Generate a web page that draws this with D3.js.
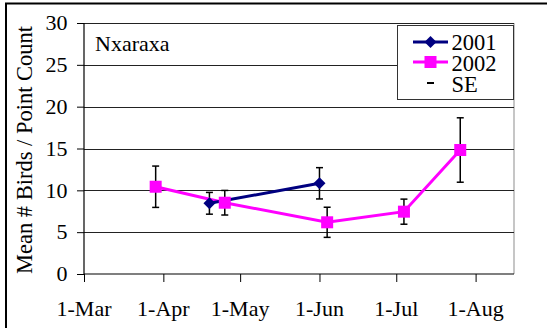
<!DOCTYPE html>
<html>
<head>
<meta charset="utf-8">
<script src="https://cdn.jsdelivr.net/npm/d3@7"></script>
<style>
html,body{margin:0;padding:0;background:#fff;}
#wrap{position:relative;width:547px;height:328px;overflow:hidden;}
#wrap svg{position:absolute;left:0;top:0;display:block;}
.lbl{position:absolute;white-space:nowrap;font-family:"Liberation Serif","Times New Roman",serif !important;color:#000;}
</style>
</head>
<body>
<div id="wrap"><svg id="chart" width="547" height="328"></svg></div>
<script>
// ---- data ----
const xTickLabels = ["1-Mar","1-Apr","1-May","1-Jun","1-Jul","1-Aug"];
const xTickDates = ["2002-03-01","2002-04-01","2002-05-01","2002-06-01","2002-07-01","2002-08-01"];
const yTicks = [0,5,10,15,20,25,30];

const dates2001 = ["2002-04-19","2002-06-01"];
const mean2001 = [8.45, 10.84];
const se2001 = [1.3, 1.87];

const dates2002 = ["2002-03-29","2002-04-25","2002-06-04","2002-07-04","2002-07-26"];
const mean2002 = [10.43, 8.52, 6.18, 7.45, 14.82];
const se2002 = [2.47, 1.47, 1.8, 1.5, 3.85];

const seriesNames = ["2001","2002","SE"];
const siteLabel = "Nxaraxa";
const yTitle = "Mean # Birds / Point Count";

// ---- layout ----
const wrap = d3.select("#wrap");
const svg = d3.select("#chart");
const pL = 84, pR = 514, pT = 23, pB = 274;
const parse = d3.timeParse("%Y-%m-%d");
const FONT = '"Liberation Serif", "Times New Roman", serif';

const x = d3.scaleTime()
  .domain([parse("2002-03-01"), parse("2002-08-16")])
  .range([pL, pR]);
const y = d3.scaleLinear().domain([0,30]).range([pB, pT]);

// HTML text helper (baseline-positioned)
function label(txt, px, baseline, size, anchor){
  const lh = size*0.85;
  const off = (lh - 1.107*size)/2 + 0.891*size;
  return wrap.append("div").attr("class","lbl")
    .style("left",px+"px").style("top",(baseline-off)+"px")
    .style("font-size",size+"px").style("line-height",lh+"px")
    .style("font-family",FONT,"important")
    .style("transform",`translateX(${-anchor*100}%)`)
    .text(txt);
}

// outer border (cropped chart frame)
svg.append("rect").attr("x",6).attr("y",3.5).attr("width",600).attr("height",400)
  .attr("fill","#fff").attr("stroke","#000").attr("stroke-width",2);

// plot right border
svg.append("line").attr("x1",pR).attr("x2",pR).attr("y1",pT).attr("y2",pB)
  .attr("stroke","#a0a0a0").attr("stroke-width",1.2);

// gridlines
svg.append("g").selectAll("line").data(yTicks.filter(d=>d>0)).join("line")
  .attr("x1",pL).attr("x2",pR)
  .attr("y1",d=>Math.round(y(d))+0.5).attr("y2",d=>Math.round(y(d))+0.5)
  .attr("stroke","#222").attr("stroke-width",1);

// y axis
const yAxis = d3.axisLeft(y).tickValues(yTicks).tickSize(7);
const gy = svg.append("g").attr("transform",`translate(${pL},0)`).call(yAxis);
gy.select(".domain").attr("stroke","#000").attr("stroke-width",1.2).attr("d",`M0,${pT}V${pB}`);
gy.selectAll(".tick line").attr("stroke","#000").attr("stroke-width",1);
gy.selectAll(".tick text").remove();
yTicks.forEach(v=>label(d3.format("d")(v), 67.5, y(v)+8, 22, 1));

// x axis
const xDates = xTickDates.map(parse);
const xAxis = d3.axisBottom(x).tickValues(xDates).tickSize(8);
const gx = svg.append("g").attr("transform",`translate(0,${pB})`).call(xAxis);
gx.select(".domain").attr("stroke","#000").attr("stroke-width",1.2).attr("d",`M${pL},0H${pR}`);
gx.selectAll(".tick line").attr("stroke","#000").attr("stroke-width",1);
gx.selectAll(".tick text").remove();
xDates.forEach((d,i)=>label(xTickLabels[i], x(d), 317, 22, 0.5));

// y title (rotated)
{
  const s = 22.5, lh = s*0.85, off = (lh - 1.107*s)/2 + 0.891*s;
  const cx = 33 - (off - lh/2), cy = 150;
  wrap.append("div").attr("class","lbl")
    .style("left",cx+"px").style("top",cy+"px")
    .style("font-size",s+"px").style("line-height",lh+"px")
    .style("font-family",FONT,"important")
    .style("transform","translate(-50%,-50%) rotate(-90deg)")
    .text(yTitle);
}

// site label
label(siteLabel, 95, 52, 22, 0);

// series
const s2001 = dates2001.map((d,i)=>({date:parse(d), v:mean2001[i], se:se2001[i]}));
const s2002 = dates2002.map((d,i)=>({date:parse(d), v:mean2002[i], se:se2002[i]}));
const line = d3.line().x(d=>x(d.date)).y(d=>y(d.v));

function errorBars(data){
  const g = svg.append("g").attr("stroke","#000").attr("stroke-width",1.5);
  data.forEach(d=>{
    const cx = x(d.date);
    g.append("line").attr("x1",cx).attr("x2",cx).attr("y1",y(d.v+d.se)).attr("y2",y(d.v-d.se));
    g.append("line").attr("x1",cx-3.5).attr("x2",cx+3.5).attr("y1",y(d.v+d.se)).attr("y2",y(d.v+d.se));
    g.append("line").attr("x1",cx-3.5).attr("x2",cx+3.5).attr("y1",y(d.v-d.se)).attr("y2",y(d.v-d.se));
  });
}
errorBars(s2001);
errorBars(s2002);

svg.append("path").datum(s2002).attr("d",line).attr("fill","none").attr("stroke","#FF00FF").attr("stroke-width",3);
svg.append("path").datum(s2001).attr("d",line).attr("fill","none").attr("stroke","#000080").attr("stroke-width",3);

const diamond = d3.symbol().type(d3.symbolSquare).size(72);
svg.append("g").selectAll("path").data(s2001).join("path")
  .attr("d",diamond)
  .attr("transform",d=>`translate(${x(d.date)},${y(d.v)}) rotate(45)`)
  .attr("fill","#000080");
svg.append("g").selectAll("rect").data(s2002).join("rect")
  .attr("x",d=>x(d.date)-6).attr("y",d=>y(d.v)-6).attr("width",12).attr("height",12)
  .attr("fill","#FF00FF");

// legend
const lg = svg.append("g");
lg.append("rect").attr("x",397.5).attr("y",25.5).attr("width",116).attr("height",74)
  .attr("fill","#fff").attr("stroke","#333").attr("stroke-width",1);
const legY = [42, 62, 83];
const legBase = [50, 71, 92.5];
lg.append("line").attr("x1",413).attr("x2",448).attr("y1",legY[0]).attr("y2",legY[0]).attr("stroke","#000080").attr("stroke-width",3);
lg.append("path").attr("d",diamond).attr("transform",`translate(430.5,${legY[0]}) rotate(45)`).attr("fill","#000080");
lg.append("line").attr("x1",413).attr("x2",448).attr("y1",legY[1]).attr("y2",legY[1]).attr("stroke","#FF00FF").attr("stroke-width",3);
lg.append("rect").attr("x",424.5).attr("y",legY[1]-6).attr("width",12).attr("height",12).attr("fill","#FF00FF");
lg.append("line").attr("x1",427).attr("x2",434).attr("y1",legY[2]).attr("y2",legY[2]).attr("stroke","#000").attr("stroke-width",2);
seriesNames.forEach((n,i)=>label(n, 451.5, legBase[i], 22.5, 0));
</script>
</body>
</html>
